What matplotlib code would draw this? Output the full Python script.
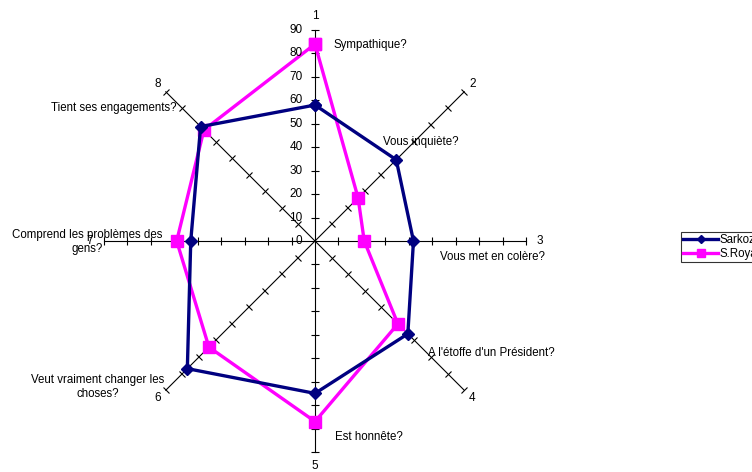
import numpy as np
import matplotlib
matplotlib.use("Agg")
import matplotlib.pyplot as plt
from matplotlib.markers import MarkerStyle
from matplotlib.transforms import Affine2D

plt.rcParams["font.family"] = ["Liberation Sans", "DejaVu Sans"]

# data
spoke_labels = ["1", "2", "3", "4", "5", "6", "7", "8"]
categories = [
    "Sympathique?",
    "Vous inquiète?",
    "Vous met en colère?",
    "A l'étoffe d'un Président?",
    "Est honnête?",
    "Veut vraiment changer les\nchoses?",
    "Comprend les problèmes des\ngens?",
    "Tient ses engagements?",
]
sarkozy = [58, 49, 42, 56, 65, 77, 53, 69]
royal = [84, 26, 21, 50, 77, 64, 59, 67]
radial_ticks = [0, 10, 20, 30, 40, 50, 60, 70, 80, 90]

W, H = 752, 472


def px(x, y):
    return x / W, 1 - y / H


fig = plt.figure(figsize=(W / 100, H / 100), dpi=100)
ax = fig.add_axes([104 / W, 20 / H, 422 / W, 422 / H], projection="polar")
ax.set_theta_offset(np.pi / 2)
ax.set_theta_direction(-1)
ax.set_ylim(0, 90)
ax.grid(False)
ax.spines["polar"].set_visible(False)
ax.set_xticks([])
ax.set_yticks([])
ax.patch.set_visible(False)

n = len(spoke_labels)
theta = np.arange(n) * 2 * np.pi / n

# spokes with cross ticks
for k, t in enumerate(theta):
    ax.plot([t, t], [0, radial_ticks[-1]], color="black", lw=0.8, zorder=1, clip_on=False)
    phi = 90 - 45 * k
    tick = MarkerStyle("|", transform=Affine2D().rotate_deg(phi))
    ax.plot([t] * (len(radial_ticks) - 1), radial_ticks[1:], ls="none",
            marker=tick, ms=6, mew=0.8, color="black", zorder=1, clip_on=False)
    r_lab = 96 if k % 2 == 0 else 95
    ax.text(t, r_lab, spoke_labels[k], ha="center", va="center", fontsize=8.5)

for v in radial_ticks:
    ax.annotate(str(v), xy=(0, v), xytext=(-9, 0), textcoords="offset points",
                ha="right", va="center", fontsize=8.5)

closed = np.append(theta, theta[0])
ax.plot(closed, sarkozy + sarkozy[:1], color="#000080", lw=2.4, marker="D",
        ms=6.5, label="Sarkozy", zorder=3, clip_on=False)
ax.plot(closed, royal + royal[:1], color="#FF00FF", lw=2.4, marker="s",
        ms=8, label="S.Royal", zorder=2, clip_on=False)

# category labels (text boxes as in the original)
label_pos = [
    (333, 45, "left"),
    (383, 142, "left"),
    (440, 257, "left"),
    (428, 353, "left"),
    (335, 437, "left"),
    (98, 387, "center"),
    (87, 242, "center"),
    (51, 108, "left"),
]
for text, (x, y, ha) in zip(categories, label_pos):
    fig.text(*px(x, y), text, ha=ha, va="center", fontsize=8.3, multialignment="center")

leg = fig.legend(loc="center left", bbox_to_anchor=px(681, 247), fontsize=8.3,
                 frameon=True, fancybox=False, edgecolor="black",
                 handlelength=3, handletextpad=0.1, borderpad=0.2,
                 labelspacing=0.2, borderaxespad=0, markerscale=0.65)
leg.get_frame().set_linewidth(0.8)

fig.savefig("out.png", dpi=100)
